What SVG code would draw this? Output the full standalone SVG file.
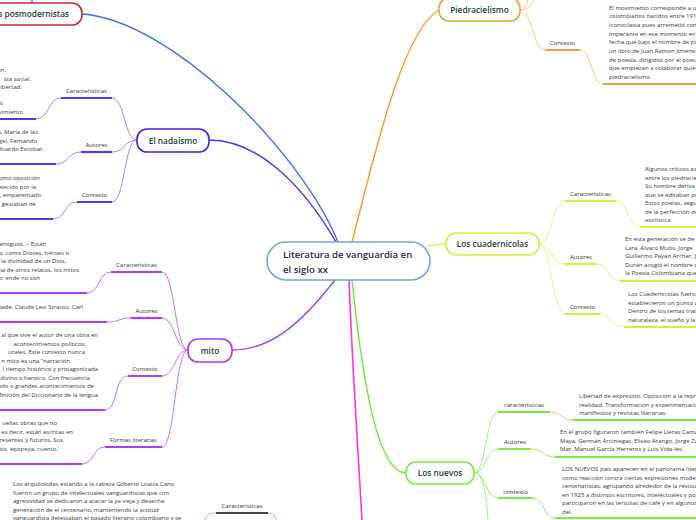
<svg xmlns="http://www.w3.org/2000/svg" width="696" height="520" viewBox="0 0 696 520">
<style>
.t{font-family:"Open Sans","DejaVu Sans",sans-serif;font-size:6px;fill:#3a3a3a}
.e{text-anchor:end}
.lb{font-family:"Open Sans","DejaVu Sans",sans-serif;font-size:6px;fill:#333;text-anchor:middle}
.nt{font-family:"Open Sans","DejaVu Sans",sans-serif;font-size:8.3px;font-weight:600;fill:#17443a;text-anchor:middle}
.box{fill:#fff;stroke-width:1.6}
.c{fill:none}
.u{fill:none;stroke-width:2.2}
</style>
<rect width="696" height="520" fill="#fff"/>
<g id="connectors" fill="none">
  <path d="M338,242 C300,150 170,20 82,14" stroke="#3a6ff2" stroke-width="1.4"/>
  <path d="M32,0 L32,3" stroke="#3a6ff2" stroke-width="1.4"/>
  <path d="M336,242 C300,180 255,140 209,140" stroke="#5a2ef0" stroke-width="1.4"/>
  <path d="M352,242 C372,165 402,30 439,10" stroke="#ff9922" stroke-width="1.4"/>
  <path d="M428,246 C436,244 440,244 446,244" stroke="#d8f050" stroke-width="1.4"/>
  <path d="M335,280 C300,325 270,350 232,350" stroke="#a040f0" stroke-width="1.4"/>
  <path d="M352,280 C363,385 378,473 406,473" stroke="#66ee33" stroke-width="1.4"/>
  <path d="M349,280 C352,360 358,450 362,520" stroke="#ff33ee" stroke-width="1.6"/>
  <!-- nadaismo -->
  <g stroke="#9c8cf8" stroke-width="1">
    <path d="M137,140 C124,140 125,98 112,98"/>
    <path d="M137,140 C124,140 125,152 112,152"/>
    <path d="M137,140 C124,140 125,202 112,202"/>
    <path d="M61,98 C48,98 49,119 36,119"/>
    <path d="M81,152 C68,152 69,164 56,164"/>
    <path d="M77,202 C64,202 66,219 53,219"/>
  </g>
  <g stroke="#5b35ee" stroke-width="2.2">
    <path d="M61,98 H112"/><path d="M0,119 H36"/>
    <path d="M81,152 H112"/><path d="M0,164 H56"/>
    <path d="M77,202 H112"/><path d="M0,219 H53"/>
  </g>
  <!-- mito -->
  <g stroke="#cc70f5" stroke-width="1">
    <path d="M188,350 C175,350 175,272 162,272"/>
    <path d="M188,350 C175,350 175,318 162,318"/>
    <path d="M188,350 C175,350 175,376 162,376"/>
    <path d="M188,350 C175,350 175,447 162,447"/>
    <path d="M111,272 C98,272 100,293 87,293"/>
    <path d="M131,318 C118,318 120,322 107,322"/>
    <path d="M128,376 C114,376 118,410 105,410"/>
    <path d="M105,447 C92,447 95,464 82,464"/>
  </g>
  <g stroke="#b23cf0" stroke-width="2.2">
    <path d="M111,272 H162"/><path d="M0,293 H87"/>
    <path d="M131,318 H162"/><path d="M0,322 H107"/>
    <path d="M128,376 H162"/><path d="M0,410 H105"/>
    <path d="M105,447 H162"/><path d="M0,464 H82"/>
  </g>
  <!-- los nuevos -->
  <g stroke="#a0f080" stroke-width="1">
    <path d="M474,473 C486,473 486,412 498,412"/>
    <path d="M474,473 C486,473 486,449 498,449"/>
    <path d="M474,473 C486,473 486,498 498,498"/>
    <path d="M474,473 C484,473 486,495 488,520"/>
    <path d="M550,412 C562,412 561,420 573,420"/>
    <path d="M531,449 C543,449 543,457 555,457"/>
    <path d="M533,498 C545,498 543,518 555,518"/>
  </g>
  <g stroke="#77ee44" stroke-width="2.2">
    <path d="M498,412 H550"/><path d="M573,420 H696"/>
    <path d="M498,449 H531"/><path d="M555,457 H696"/>
    <path d="M498,498 H533"/><path d="M555,518 H696"/>
  </g>
  <!-- cuadernicolas -->
  <g stroke="#e6f590" stroke-width="1">
    <path d="M539,244 C552,244 552,201 565,201"/>
    <path d="M539,244 C552,244 552,264 565,264"/>
    <path d="M539,244 C552,244 552,314 565,314"/>
    <path d="M616,201 C629,201 627,227 640,227"/>
    <path d="M597,264 C610,264 607,281 620,281"/>
    <path d="M600,314 C612,314 612,327 624,327"/>
  </g>
  <g stroke="#d4f03c" stroke-width="2.2">
    <path d="M565,201 H616"/><path d="M640,227 H696"/>
    <path d="M565,264 H597"/><path d="M620,281 H696"/>
    <path d="M565,314 H600"/><path d="M624,327 H696"/>
  </g>
  <!-- piedracielismo -->
  <g stroke="#ffc880" stroke-width="1">
    <path d="M520,10 C533,10 532,50 545,50"/>
    <path d="M520,10 C526,10 526,4 528,0"/>
    <path d="M520,10 C529,10 531,4 535,0"/>
    <path d="M580,50 C592,50 591,84 603,84"/>
  </g>
  <g stroke="#f5a040" stroke-width="2.2">
    <path d="M545,50 H580"/><path d="M603,84 H696"/>
  </g>
  <!-- bottom small branch -->
  <g stroke="#f090f0" stroke-width="1">
    <path d="M216,513 C208,513 206,516 205,520"/>
    <path d="M268,513 C274,513 275,516 276,520"/>
  </g>
  <path d="M216,513 H268" stroke="#444" stroke-width="2.2"/>
</g>

<g id="central">
  <rect class="box" x="267" y="242" width="163" height="38" rx="19" stroke="#6ea8dc"/>
  <text x="283" y="257.5" font-family="'Open Sans','DejaVu Sans',sans-serif" font-size="9.6" font-weight="600" fill="#1f2d4d">Literatura de vanguardia en</text>
  <text x="283" y="272.5" font-family="'Open Sans','DejaVu Sans',sans-serif" font-size="9.6" font-weight="600" fill="#1f2d4d">el siglo xx</text>
</g>

<g id="posmodernistas">
  <rect class="box" x="-20" y="3" width="102" height="22" rx="10" stroke="#c8283c"/>
  <text class="nt" x="69" y="17" style="text-anchor:end">os posmodernistas</text>
</g>

<g id="nadaismo">
  <rect class="box" x="137" y="129" width="72" height="23" rx="10" stroke="#4a1ee6"/>
  <text class="nt" x="173" y="143.5">El nadaísmo</text>
  <text class="lb" x="86.5" y="93">Características</text>
  <text class="t e"><tspan x="6" y="72">ón.</tspan><tspan x="31" y="80.5">sta social.</tspan><tspan x="22" y="89">libertad.</tspan><tspan x="2.5" y="105">s</tspan><tspan x="23" y="114">vimiento</tspan></text>
  <text class="lb" x="96.5" y="147">Autores</text>
  <text class="t e"><tspan x="38" y="134">o, María de las</tspan><tspan x="37" y="142.5">gel, Fernando</tspan><tspan x="44" y="151">duardo Escobar,</tspan></text>
  <text class="lb" x="94.5" y="196.5">Contexto</text>
  <text class="t e"><tspan x="40" y="180">omo oposición</tspan><tspan x="36" y="188.5">elecido por la</tspan><tspan x="41" y="197">, emparentado</tspan><tspan x="36" y="205.5">gestaban de</tspan></text>
</g>

<g id="mito">
  <rect class="box" x="188" y="339" width="44" height="23" rx="10" stroke="#b038f0"/>
  <text class="nt" x="210" y="353.5">mito</text>
  <text class="lb" x="136.5" y="267">Características</text>
  <text class="t e"><tspan x="46" y="246">antiguos. – Están</tspan><tspan x="69" y="254.5">s, como Dioses, héroes o</tspan><tspan x="66" y="263">r la divinidad de un Dios,</tspan><tspan x="79" y="271.5">cia de otros relatos, los mitos</tspan><tspan x="40" y="280">or ende no son</tspan></text>
  <text class="lb" x="146.5" y="313">Autores</text>
  <text class="t e"><tspan x="83" y="309">iade, Claude Levi Strauss, Carl</tspan></text>
  <text class="lb" x="145" y="370.5">Contexto</text>
  <text class="t e"><tspan x="98" y="337">al que vive el autor de una obra en</tspan><tspan x="86" y="345.5">acontecimientos políticos,</tspan><tspan x="85" y="354">urales. Este contexto nunca</tspan><tspan x="70" y="362.5">n mito es una “narración</tspan><tspan x="98" y="371">l tiempo histórico y protagonizada</tspan><tspan x="90" y="379.5">divino o heroico. Con frecuencia</tspan><tspan x="94" y="388">ndo o grandes acontecimientos de</tspan><tspan x="98" y="396.5">finición del Diccionario de la lengua</tspan></text>
  <text class="lb" x="133.5" y="442">Formas literarias</text>
  <text class="t e"><tspan x="57" y="425">uellas obras que no</tspan><tspan x="73" y="433.5">es decir, están escritas en</tspan><tspan x="63" y="442">resentes y futuros. Sus</tspan><tspan x="58" y="450.5">ito, epopeya, cuento,</tspan></text>
</g>

<g id="arquilokidas">
  <text class="t"><tspan x="13" y="486">Los  arquilokidas estando a la cabeza Gilberto Loaiza Cano</tspan><tspan x="13" y="494.5">fueron un grupo de intelectuales vanguardistas que con</tspan><tspan x="13" y="503">agresividad se dedicaron a atacar  la ya vieja y desecha</tspan><tspan x="13" y="511.5">generación de  el centenario, manteniendo la actitud</tspan><tspan x="13" y="520">vanguardista detestaban el pasado literario colombiano y  se</tspan></text>
  <text class="lb" x="242" y="508">Características</text>
</g>

<g id="piedracielismo">
  <rect class="box" x="439" y="-2" width="81" height="23" rx="10" stroke="#f5a040"/>
  <text class="nt" x="479.5" y="13">Piedracielismo</text>
  <text class="lb" x="562.5" y="45">Contexto</text>
  <text class="t"><tspan x="609" y="9.5">El  movimiento corresponde a u</tspan><tspan x="609" y="18.2">colombianos nacidos entre 191</tspan><tspan x="609" y="26.9">iconoclasta pues arremetió con</tspan><tspan x="609" y="35.6">imperante en ese momento en</tspan><tspan x="609" y="44.3">fecha que bajo el nombre de pi</tspan><tspan x="609" y="53">un libro de Juan Ramon Jiménez</tspan><tspan x="609" y="61.7">de poesía, dirigidos por el poeta</tspan><tspan x="609" y="70.4">que empiezan a colaborar quie</tspan><tspan x="609" y="79.1">piedracielismo.</tspan></text>
</g>

<g id="cuadernicolas">
  <rect class="box" x="446" y="233" width="93" height="22" rx="10" stroke="#d4f03c"/>
  <text class="nt" x="492.5" y="247">Los cuadernicolas</text>
  <text class="lb" x="590.5" y="196">Características</text>
  <text class="t"><tspan x="645" y="171">Algunos críticos as</tspan><tspan x="645" y="179.5">entre los piedracie</tspan><tspan x="645" y="188">Su nombre deriva</tspan><tspan x="645" y="196.5">que se editaban pe</tspan><tspan x="645" y="205">Estos poetas, segu</tspan><tspan x="645" y="213.5">de la perfección de</tspan><tspan x="645" y="222">estilística.</tspan></text>
  <text class="lb" x="581" y="259">Autores</text>
  <text class="t"><tspan x="625" y="241">En esta generación se de</tspan><tspan x="625" y="249.5">Lara, Álvaro Mutis, Jorge </tspan><tspan x="625" y="258">Guillermo Payán Archer, J</tspan><tspan x="625" y="266.5">Durán acogió el nombre d</tspan><tspan x="625" y="275">la Poesía Colombiana que</tspan></text>
  <text class="lb" x="582.5" y="309">Contexto</text>
  <text class="t"><tspan x="628" y="296">Los Cuadernicolas fuero</tspan><tspan x="628" y="304.5">establecieron un punto d</tspan><tspan x="628" y="313">Dentro de los temas trat</tspan><tspan x="628" y="321.5">naturaleza, el sueño y la</tspan></text>
</g>

<g id="losnuevos">
  <rect class="box" x="406" y="462" width="68" height="22" rx="10" stroke="#77ee44"/>
  <text class="nt" x="440" y="476">Los nuevos</text>
  <text class="lb" x="524" y="407">caracteristicas</text>
  <text class="t"><tspan x="579" y="398">Libertad de expresión, Oposición a la repre</tspan><tspan x="579" y="406.5">realidad, Transformación y experimentació</tspan><tspan x="579" y="415">manifiestos y revistas literarias.</tspan></text>
  <text class="lb" x="515" y="444">Autores</text>
  <text class="t"><tspan x="560" y="434">En el grupo figuraron también Felipe Lleras Cama</tspan><tspan x="560" y="442.5">Maya, Germán Arciniegas, Eliseo Arango, Jorge Za</tspan><tspan x="560" y="451">Mar, Manuel García Herreros y Luis Vida-les.</tspan></text>
  <text class="lb" x="515.5" y="494">contexto</text>
  <text class="t"><tspan x="562" y="471">LOS NUEVOS país aparecen en el panorama liter</tspan><tspan x="562" y="479.5">como reacción contra ciertas expresiones mode</tspan><tspan x="562" y="488">centenaristas, agrupando alrededor de la revista</tspan><tspan x="562" y="496.5">en 1925 a distintos escritores, intelectuales y pol</tspan><tspan x="562" y="505">participaron en las tertulias de café y en algunos</tspan><tspan x="562" y="513.5">del.</tspan></text>
</g>
</svg>
